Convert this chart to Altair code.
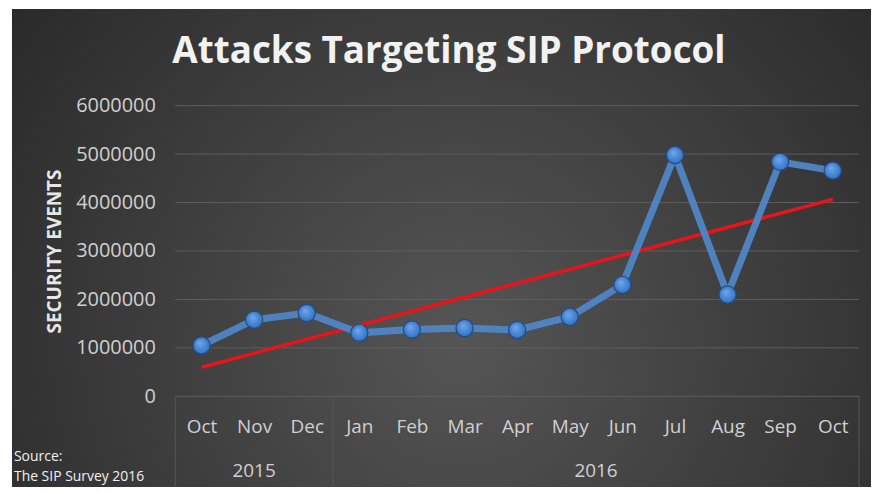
import altair as alt
import pandas as pd

months = ["Oct", "Nov", "Dec", "Jan", "Feb", "Mar", "Apr", "May", "Jun", "Jul", "Aug", "Sep", "Oct"]
years = ["2015", "2015", "2015", "2016", "2016", "2016", "2016", "2016", "2016", "2016", "2016", "2016", "2016"]
events = [1050000, 1580000, 1720000, 1310000, 1380000, 1410000, 1370000, 1640000, 2300000, 4980000, 2100000, 4840000, 4660000]
y_ticks = [0, 1000000, 2000000, 3000000, 4000000, 5000000, 6000000]
year_labels = ["2015", "2016"]
year_centers = [1, 7.5]
group_edges = [-0.5, 2.5, 12.5]

df = pd.DataFrame({"idx": list(range(len(months))), "month": months, "year": years, "events": events})
years_df = pd.DataFrame({"pos": year_centers, "label": year_labels})
edges_df = pd.DataFrame({"pos": group_edges})
grid_df = pd.DataFrame({"v": y_ticks})

W, H = 687, 292
LEFT, TOP = 168, 97

month_expr = "[" + ",".join("'%s'" % m for m in months) + "][datum.value]"

xscale = alt.Scale(domain=[-0.5, 12.5], nice=False, zero=False)
yscale = alt.Scale(domain=[0, 6000000], nice=False)

label_color = "#d0d0d0"
font = "Open Sans"

bg = alt.Chart(pd.DataFrame({"a": [0]})).mark_rect(
    fill=alt.Gradient(
        gradient="radial",
        x1=0.52, y1=0.6, r1=0.0,
        x2=0.52, y2=0.6, r2=0.75,
        stops=[alt.GradientStop(offset=0, color="#555555"),
               alt.GradientStop(offset=1, color="#232323")],
    )
).encode(
    x=alt.value(-LEFT + 4), x2=alt.value(W + 16),
    y=alt.value(-TOP), y2=alt.value(H + 100),
)

gridlines = alt.Chart(grid_df).mark_rule(color="#5e5e5e", strokeWidth=1).encode(
    y=alt.Y("v:Q", scale=yscale), x=alt.value(0), x2=alt.value(W))

base = alt.Chart(df)

line = base.mark_line(color="#4f86c6", strokeWidth=7, opacity=0.95).encode(
    x=alt.X("idx:Q", scale=xscale, axis=alt.Axis(
        values=list(range(len(months))), labelExpr=month_expr, title=None,
        grid=False, ticks=False, domain=False, labelFont=font, labelFontSize=19,
        labelColor=label_color, labelPadding=30, labelBaseline="middle", zindex=2)),
    y=alt.Y("events:Q", scale=yscale, axis=alt.Axis(
        values=y_ticks, format="d", title="SECURITY EVENTS",
        grid=False, ticks=False, domain=False, zindex=2,
        labelFont=font, labelFontSize=20, labelColor=label_color, labelPadding=20,
        titleFont=font, titleFontSize=19, titleFontWeight="bold", titleColor="#e6e6e6",
        titleAngle=-90, titleX=-121, titleY=H / 2, titleAlign="center", titleBaseline="middle")),
)

points = base.mark_point(filled=True, size=300, opacity=1, stroke="#1f4c85", strokeWidth=1.2,
    fill=alt.Gradient(
        gradient="radial", x1=0.4, y1=0.35, r1=0.0, x2=0.5, y2=0.5, r2=0.6,
        stops=[alt.GradientStop(offset=0, color="#6fa8ec"),
               alt.GradientStop(offset=1, color="#2a69bd")],
    )).encode(x="idx:Q", y="events:Q")

trend = base.transform_regression("idx", "events", method="linear").mark_line(
    color="#e8141a", strokeWidth=3.5).encode(x="idx:Q", y="events:Q")

dividers = alt.Chart(edges_df).mark_rule(color="#575757", strokeWidth=1).encode(
    x=alt.X("pos:Q", scale=xscale), y=alt.value(H), y2=alt.value(H + 92))

year_text = alt.Chart(years_df).mark_text(
    font=font, fontSize=19, color=label_color, baseline="middle").encode(
    x=alt.X("pos:Q", scale=xscale), y=alt.value(H + 75), text="label:N")

title_df = pd.DataFrame({"t": ["Attacks Targeting SIP Protocol"]})
title = alt.Chart(title_df).mark_text(
    font=font, fontSize=37, fontWeight="bold", color="#f2f2f2",
    align="center", baseline="alphabetic").encode(
    x=alt.value(275), y=alt.value(-43), text="t:N")

source_df = pd.DataFrame({"t": ["Source:", "The SIP Survey 2016"], "row": [0, 1]})
src1 = alt.Chart(source_df[source_df.row == 0]).mark_text(
    font=font, fontSize=14, color="#f0f0f0", align="left", baseline="middle").encode(
    x=alt.value(-LEFT + 6), y=alt.value(H + 61), text="t:N")
src2 = alt.Chart(source_df[source_df.row == 1]).mark_text(
    font=font, fontSize=14, color="#f0f0f0", align="left", baseline="middle").encode(
    x=alt.value(-LEFT + 6), y=alt.value(H + 81), text="t:N")

chart = alt.layer(bg, gridlines, dividers, trend, line, points, year_text, title, src1, src2).properties(
    width=W, height=H,
    autosize=alt.AutoSizeParams(type="none"),
    padding={"left": LEFT, "top": TOP, "right": 12, "bottom": 90},
    background="#ffffff",
).configure_view(stroke=None)

chart.save("out.html", embed_options={"renderer": "svg", "actions": False})
